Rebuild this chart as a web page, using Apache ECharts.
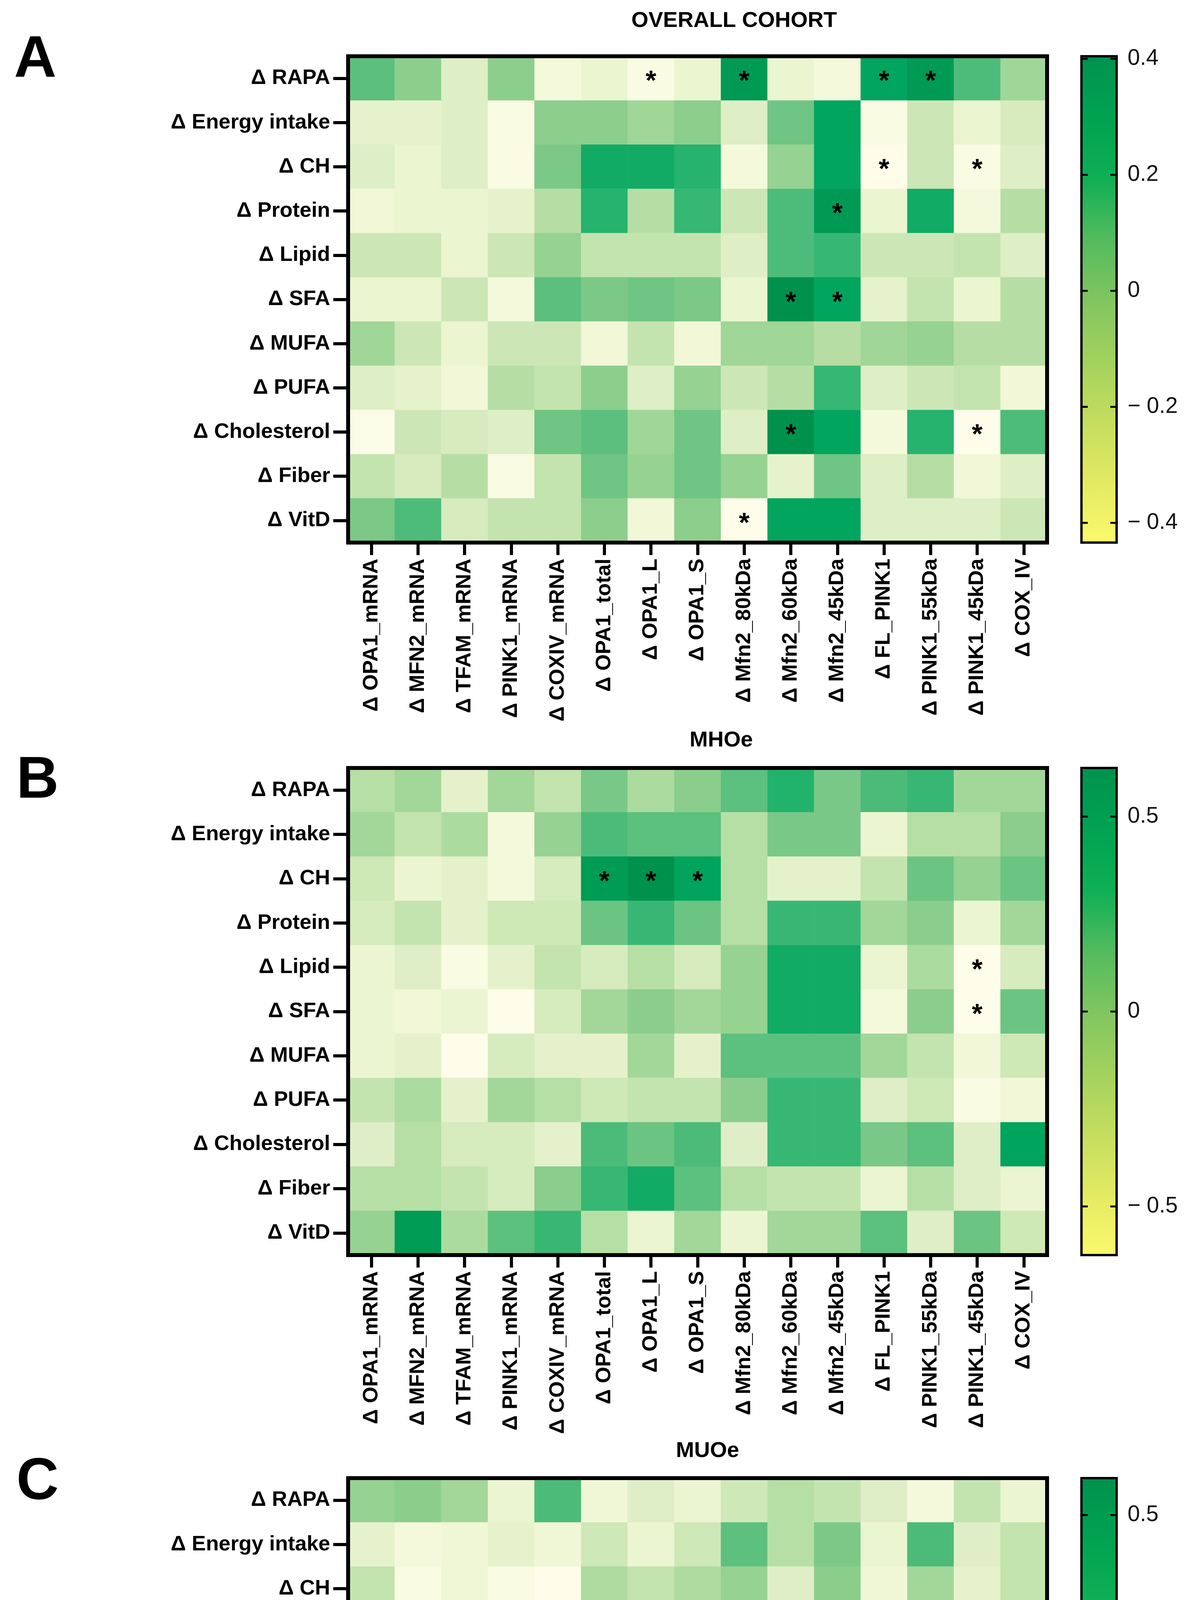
<!DOCTYPE html>
<html>
<head>
<meta charset="utf-8">
<script src="https://cdn.jsdelivr.net/npm/echarts@6/dist/echarts.min.js"></script>
<style>
  html, body { margin: 0; padding: 0; background: #ffffff; }
  #chart { width: 3033px; height: 5506px; }
</style>
</head>
<body>
<div id="chart"></div>
<script>
// ---------- categories ----------
var rowLabels = ['Δ RAPA', 'Δ Energy intake', 'Δ CH', 'Δ Protein', 'Δ Lipid', 'Δ SFA',
  'Δ MUFA', 'Δ PUFA', 'Δ Cholesterol', 'Δ Fiber', 'Δ VitD'];
var colLabels = ['Δ OPA1_mRNA', 'Δ MFN2_mRNA', 'Δ TFAM_mRNA', 'Δ PINK1_mRNA', 'Δ COXIV_mRNA',
  'Δ OPA1_total', 'Δ OPA1_L', 'Δ OPA1_S', 'Δ Mfn2_80kDa', 'Δ Mfn2_60kDa', 'Δ Mfn2_45kDa',
  'Δ FL_PINK1', 'Δ PINK1_55kDa', 'Δ PINK1_45kDa', 'Δ COX_IV'];
var panelTitles = ['OVERALL COHORT', 'MHOe', 'MUOe'];
var panelLetters = ['A', 'B', 'C'];

// ---------- correlation values (rows x columns) ----------
var valuesOverall = [
  [0.16, 0.05, -0.22, 0.05, -0.36, -0.29, -0.40, -0.29, 0.37, -0.29, -0.36, 0.33, 0.37, 0.19, -0.01],
  [-0.26, -0.26, -0.22, -0.40, 0.05, 0.05, -0.01, 0.05, -0.22, 0.12, 0.33, -0.40, -0.15, -0.29, -0.19],
  [-0.22, -0.29, -0.22, -0.40, 0.09, 0.30, 0.30, 0.26, -0.36, 0.02, 0.33, -0.43, -0.15, -0.40, -0.22],
  [-0.33, -0.29, -0.29, -0.26, -0.08, 0.26, -0.08, 0.23, -0.15, 0.19, 0.37, -0.29, 0.30, -0.36, -0.08],
  [-0.15, -0.15, -0.29, -0.15, 0.02, -0.12, -0.12, -0.12, -0.22, 0.19, 0.23, -0.15, -0.15, -0.12, -0.22],
  [-0.29, -0.29, -0.15, -0.36, 0.16, 0.09, 0.12, 0.09, -0.29, 0.40, 0.33, -0.26, -0.12, -0.29, -0.08],
  [-0.01, -0.15, -0.29, -0.15, -0.15, -0.33, -0.12, -0.33, -0.01, -0.01, -0.08, -0.01, 0.02, -0.08, -0.08],
  [-0.22, -0.26, -0.33, -0.08, -0.12, 0.05, -0.22, 0.02, -0.15, -0.08, 0.23, -0.22, -0.15, -0.12, -0.33],
  [-0.42, -0.15, -0.19, -0.22, 0.12, 0.16, -0.01, 0.12, -0.22, 0.40, 0.33, -0.36, 0.26, -0.43, 0.19],
  [-0.12, -0.19, -0.08, -0.40, -0.12, 0.12, 0.02, 0.12, 0.02, -0.26, 0.12, -0.22, -0.08, -0.33, -0.22],
  [0.09, 0.19, -0.19, -0.12, -0.12, 0.05, -0.33, 0.05, -0.43, 0.33, 0.33, -0.22, -0.22, -0.22, -0.15]
];
var valuesMHOe = [
  [-0.10, 0.00, -0.36, 0.00, -0.16, 0.16, -0.05, 0.10, 0.26, 0.42, 0.16, 0.31, 0.36, 0.00, 0.00],
  [0.00, -0.16, -0.05, -0.52, 0.05, 0.31, 0.26, 0.26, -0.10, 0.16, 0.16, -0.42, -0.10, -0.10, 0.10],
  [-0.21, -0.42, -0.36, -0.52, -0.26, 0.57, 0.62, 0.52, -0.10, -0.36, -0.36, -0.16, 0.21, 0.05, 0.21],
  [-0.26, -0.16, -0.36, -0.21, -0.21, 0.21, 0.36, 0.21, -0.10, 0.36, 0.36, 0.00, 0.10, -0.42, 0.00],
  [-0.42, -0.31, -0.57, -0.36, -0.16, -0.26, -0.10, -0.26, 0.05, 0.47, 0.47, -0.42, -0.05, -0.62, -0.26],
  [-0.42, -0.47, -0.42, -0.62, -0.26, 0.00, 0.10, 0.00, 0.05, 0.47, 0.47, -0.52, 0.10, -0.62, 0.21],
  [-0.42, -0.36, -0.62, -0.26, -0.36, -0.36, 0.00, -0.36, 0.26, 0.26, 0.26, 0.00, -0.16, -0.47, -0.21],
  [-0.16, -0.05, -0.36, 0.00, -0.10, -0.21, -0.16, -0.16, 0.10, 0.36, 0.36, -0.31, -0.21, -0.57, -0.47],
  [-0.31, -0.10, -0.26, -0.26, -0.36, 0.31, 0.21, 0.31, -0.31, 0.36, 0.36, 0.16, 0.26, -0.31, 0.52],
  [-0.10, -0.10, -0.16, -0.26, 0.10, 0.36, 0.47, 0.26, -0.10, -0.16, -0.16, -0.42, -0.10, -0.31, -0.42],
  [0.05, 0.57, -0.05, 0.26, 0.36, -0.10, -0.42, 0.00, -0.42, 0.00, 0.00, 0.26, -0.31, 0.21, -0.21]
];
var valuesMUOe = [
  [0.07, 0.11, 0.02, -0.35, 0.30, -0.40, -0.26, -0.35, -0.17, -0.07, -0.12, -0.26, -0.45, -0.12, -0.35],
  [-0.31, -0.45, -0.40, -0.31, -0.40, -0.17, -0.35, -0.17, 0.25, -0.07, 0.16, -0.35, 0.30, -0.26, -0.12],
  [-0.12, -0.49, -0.40, -0.49, -0.54, -0.03, -0.12, -0.03, 0.07, -0.26, 0.11, -0.40, 0.02, -0.31, -0.12],
  [-0.31, -0.40, -0.26, -0.26, -0.31, 0.07, -0.35, 0.07, 0.44, 0.25, 0.49, -0.35, 0.53, -0.31, -0.07],
  [-0.17, -0.21, -0.35, 0.02, -0.21, -0.21, -0.17, -0.21, 0.11, 0.02, 0.02, 0.07, 0.25, 0.02, -0.07],
  [-0.26, -0.31, -0.17, 0.02, -0.26, 0.02, -0.12, 0.02, 0.11, 0.35, 0.11, 0.11, 0.44, -0.07, 0.02],
  [-0.17, -0.12, -0.12, 0.02, 0.02, -0.26, -0.26, -0.26, -0.07, 0.07, -0.07, -0.07, 0.21, -0.07, -0.07],
  [-0.35, -0.40, -0.31, -0.12, -0.40, -0.07, -0.21, -0.03, 0.44, -0.40, -0.03, -0.07, 0.11, -0.03, -0.17],
  [-0.49, -0.26, -0.26, -0.21, 0.02, -0.03, -0.31, 0.02, -0.07, 0.58, 0.44, -0.49, 0.30, -0.54, 0.07],
  [-0.17, -0.31, -0.17, -0.49, -0.21, 0.02, -0.21, 0.02, -0.12, -0.17, 0.30, -0.35, -0.07, -0.35, -0.21],
  [0.25, 0.07, -0.31, -0.45, -0.54, -0.07, -0.26, -0.07, 0.07, 0.30, 0.44, -0.21, -0.03, -0.35, -0.07]
];

// ---------- significance marks: [row index, column index, mark] ----------
var sigOverall = [[0, 6, '*'], [0, 8, '*'], [0, 11, '*'], [0, 12, '*'], [2, 11, '*'], [2, 13, '*'],
  [3, 10, '*'], [5, 9, '*'], [5, 10, '*'], [8, 9, '*'], [8, 13, '*'], [10, 8, '*']];
var sigMHOe = [[2, 5, '*'], [2, 6, '*'], [2, 7, '*'], [4, 13, '*'], [5, 13, '*']];
var sigMUOe = [[3, 10, '*'], [3, 12, '*'], [8, 9, '**'], [8, 13, '*'], [10, 4, '*']];

// ---------- colour scales (min / max) and colour-bar tick labels ----------
var scaleMin = [-0.434, -0.625, -0.542];
var scaleMax = [0.404, 0.625, 0.585];
var ticksOverall = [-0.4, -0.2, 0, 0.2, 0.4];
var ticksMHOe = [-0.5, 0, 0.5];
var ticksMUOe = [-0.5, 0, 0.5];

// ---------- styling ----------
var cellColors = ['#fdfdea', '#f5f9dc', '#ecf5d1', '#dfeec6', '#cee8b6', '#b7dfa5', '#a2d799',
  '#8acd8b', '#6dc483', '#4bbb79', '#22b36d', '#00a45d', '#00914c'];
var barColors = ['#fbf96c', '#e2ea62', '#c4dd5e', '#a2d25e', '#80c560', '#52bb5d', '#0faf55', '#00a351', '#00924d'];
var FONT = 'Liberation Sans, Arial, Helvetica, sans-serif';

var panels = [
  { values: valuesOverall, sig: sigOverall, ticks: ticksOverall, top: 144, height: 1245, titleX: 1879, titleY: 54, letterX: 36, letterY: 155 },
  { values: valuesMHOe, sig: sigMHOe, ticks: ticksMHOe, top: 1966, height: 1247, titleX: 1846, titleY: 1896, letterX: 42, letterY: 2001 },
  { values: valuesMUOe, sig: sigMUOe, ticks: ticksMUOe, top: 3784, height: 1245, titleX: 1811, titleY: 3715, letterX: 42, letterY: 3797 }
];

var HM_LEFT = 891, HM_WIDTH = 1789;
var CB_LEFT = 2768, CB_WIDTH = 90;

var grid = [], xAxis = [], yAxis = [], series = [], visualMap = [], graphic = [];

panels.forEach(function (p, i) {
  // heatmap grid
  grid.push({ left: HM_LEFT, top: p.top, width: HM_WIDTH, height: p.height, show: true,
    borderColor: '#000', borderWidth: 10, backgroundColor: 'transparent', z: 10 });
  // colour-bar grid
  grid.push({ left: CB_LEFT, top: p.top, width: CB_WIDTH, height: p.height, show: true,
    borderColor: '#000', borderWidth: 6, backgroundColor: 'transparent', z: 10 });

  xAxis.push({ type: 'category', gridIndex: 2 * i, data: colLabels, position: 'bottom',
    axisLine: { show: false },
    axisTick: { show: true, alignWithLabel: true, length: 32, lineStyle: { width: 8, color: '#000' } },
    axisLabel: { rotate: 90, margin: 41, interval: 0, fontSize: 54, fontWeight: 'bold', color: '#000', fontFamily: FONT },
    splitLine: { show: false } });
  xAxis.push({ type: 'value', gridIndex: 2 * i + 1, show: false, min: 0, max: 1 });

  yAxis.push({ type: 'category', gridIndex: 2 * i, data: rowLabels, inverse: true,
    axisLine: { show: false },
    axisTick: { show: true, alignWithLabel: true, length: 38, lineStyle: { width: 8, color: '#000' } },
    axisLabel: { margin: 46, interval: 0, fontSize: 54, fontWeight: 'bold', color: '#000', fontFamily: FONT },
    splitLine: { show: false } });
  yAxis.push({ type: 'value', gridIndex: 2 * i + 1, position: 'left', min: scaleMin[i], max: scaleMax[i], z: 12,
    axisLine: { show: false },
    axisTick: { show: true, inside: true, length: 16, customValues: p.ticks, lineStyle: { width: 5, color: '#000' } },
    axisLabel: { show: false }, splitLine: { show: false } });
  yAxis.push({ type: 'value', gridIndex: 2 * i + 1, position: 'right', min: scaleMin[i], max: scaleMax[i], z: 12,
    axisLine: { show: false },
    axisTick: { show: true, inside: true, length: 16, customValues: p.ticks, lineStyle: { width: 5, color: '#000' } },
    axisLabel: { show: true, customValues: p.ticks, margin: 28, fontSize: 57, color: '#111', fontFamily: FONT,
      formatter: function (v) { return v < 0 ? '\u2212 ' + Math.abs(v) : String(v); } },
    splitLine: { show: false } });

  var sigMap = {};
  p.sig.forEach(function (s) { sigMap[s[0] + '_' + s[1]] = s[2]; });
  var data = [];
  p.values.forEach(function (row, r) {
    row.forEach(function (v, c) { data.push([c, r, v]); });
  });

  series.push({
    type: 'heatmap', xAxisIndex: 2 * i, yAxisIndex: 3 * i, data: data, z: 2,
    label: { show: true, fontSize: 70, fontWeight: 'bold', color: '#000', fontFamily: FONT, offset: [0, 10],
      formatter: (function (m) { return function (prm) { return m[prm.value[1] + '_' + prm.value[0]] || ''; }; })(sigMap) },
    emphasis: { disabled: true }, itemStyle: { borderWidth: 0 }
  });

  visualMap.push({ type: 'continuous', show: false, seriesIndex: i, min: scaleMin[i], max: scaleMax[i],
    inRange: { color: cellColors } });

  graphic.push({ type: 'text', x: p.titleX, y: p.titleY, z: 20,
    style: { text: panelTitles[i], fontSize: 56, fontWeight: 'bold', fontFamily: FONT, fill: '#000', align: 'center', verticalAlign: 'middle' } });
  graphic.push({ type: 'text', x: p.letterX, y: p.letterY, z: 20,
    style: { text: panelLetters[i], fontSize: 150, fontWeight: 'bold', fontFamily: FONT, fill: '#000', align: 'left', verticalAlign: 'middle' } });
});

// dummy series carrying the colour bars' gradients
panels.forEach(function (p, i) {
  series.push({ type: 'scatter', xAxisIndex: 2 * i + 1, yAxisIndex: 3 * i + 1, data: [], silent: true });
  visualMap.push({ type: 'continuous', show: true, seriesIndex: 3 + i, min: scaleMin[i], max: scaleMax[i],
    orient: 'vertical', left: CB_LEFT + 3, top: p.top + 3, itemWidth: CB_WIDTH - 6, itemHeight: p.height - 6,
    calculable: false, hoverLink: false, padding: 0, text: null, z: 4,
    inRange: { color: barColors } });
});

var chart = echarts.init(document.getElementById('chart'), null, { renderer: 'canvas' });
chart.setOption({
  backgroundColor: '#ffffff',
  animation: false,
  grid: grid, xAxis: xAxis, yAxis: yAxis, series: series, visualMap: visualMap, graphic: graphic
});
</script>
</body>
</html>
